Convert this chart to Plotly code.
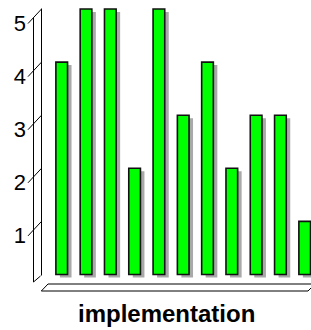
import plotly.graph_objects as go

# ---- data ----
positions = list(range(11))
values = [4, 5, 5, 2, 5, 3, 4, 2, 3, 3, 1]
y_ticks = [1, 2, 3, 4, 5]
y_tick_labels = ["1", "2", "3", "4", "5"]
x_title = "implementation"

# ---- layout geometry (pixels) ----
W, H = 311, 330
ML, MR, MT, MB = 42, 0, 7, 51
PW, PH = W - ML - MR, H - MT - MB
X_RANGE = [-0.811, 10.259]
Y_RANGE = [-0.085, 5.038]
px_per_x = PW / (X_RANGE[1] - X_RANGE[0])
px_per_y = PH / (Y_RANGE[1] - Y_RANGE[0])

BAR_W = 0.48
SHADOW_DX, SHADOW_DY = 4, 3


def P(px, py):
    """pixel -> paper coordinates"""
    return (px - ML) / PW, (H - MB - py) / PH


fig = go.Figure()

# shadows
fig.add_trace(go.Bar(
    x=positions, y=values,
    base=-SHADOW_DY / px_per_y,
    width=BAR_W,
    offset=-BAR_W / 2 + SHADOW_DX / px_per_x,
    marker=dict(color="#a9a9a9", line=dict(width=0)),
    hoverinfo="skip", showlegend=False,
))
# bars
fig.add_trace(go.Bar(
    x=positions, y=values,
    width=BAR_W,
    marker=dict(color="#00ff00", line=dict(color="#111111", width=1.6)),
    showlegend=False,
))

shapes = []


def seg(p0, p1):
    x0, y0 = P(*p0)
    x1, y1 = P(*p1)
    shapes.append(dict(type="line", xref="paper", yref="paper",
                       x0=x0, y0=y0, x1=x1, y1=y1,
                       line=dict(color="black", width=1)))


# wall
seg((41.5, 8.5), (41.5, 275.5))
seg((33.5, 18), (33.5, 282))
seg((33.5, 282), (40.5, 276))
# floor
seg((48, 284), (312, 284))
seg((41.3, 291), (308, 291))
seg((41.3, 291), (48, 284))
seg((308, 291), (314, 285))

# slanted ticks anchored at tick values
for v in y_ticks:
    xa, _ = P(41.5, 0)
    xb, _ = P(28, 0)
    shapes.append(dict(type="line", xref="paper", yref="y",
                       ysizemode="pixel", yanchor=v, y0=0, y1=-14.5,
                       x0=xa, x1=xb,
                       line=dict(color="black", width=1)))

tx, ty = P(166.5, 313)
fig.update_layout(
    width=W, height=H,
    margin=dict(l=ML, r=MR, t=MT, b=MB, pad=0, autoexpand=False),
    paper_bgcolor="white", plot_bgcolor="white",
    barmode="overlay",
    font=dict(family="Liberation Sans, Arial, sans-serif", color="black"),
    xaxis=dict(range=X_RANGE, showgrid=False, zeroline=False, showline=False,
               showticklabels=False, ticks="", automargin=False),
    yaxis=dict(range=Y_RANGE, showgrid=False, zeroline=False, showline=False,
               tickvals=y_ticks, ticktext=y_tick_labels, ticks="",
               automargin=False,
               tickfont=dict(size=22, family="Liberation Sans, Arial, sans-serif"),
               ticklabelshift=14, ticklabelstandoff=15),
    shapes=shapes,
    annotations=[dict(text="<b>" + x_title + "</b>", xref="paper", yref="paper",
                      x=tx, y=ty, xanchor="center", yanchor="middle",
                      showarrow=False,
                      font=dict(size=24, family="Liberation Sans, Arial, sans-serif"))],
)

fig.write_html("out.html",
               config={"displayModeBar": False, "staticPlot": True},
               post_script="document.body.style.margin='0';document.body.style.overflow='hidden';")
